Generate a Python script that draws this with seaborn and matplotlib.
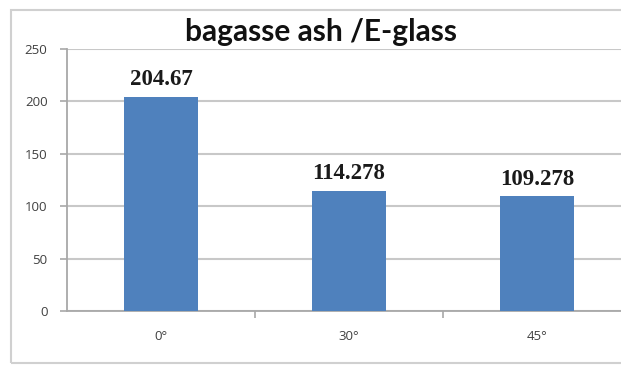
import matplotlib
matplotlib.use("Agg")
import matplotlib.pyplot as plt
import seaborn as sns
from matplotlib.patches import Rectangle

angles = ["0°", "30°", "45°"]
values = [204.67, 114.278, 109.278]
value_labels = ["204.67", "114.278", "109.278"]
yticks = [0, 50, 100, 150, 200, 250]
title = "bagasse ash /E-glass"

sns.set_theme(style="white")
plt.rcParams["font.family"] = ["DejaVu Sans"]

W, H = 621, 372
fig = plt.figure(figsize=(W / 100, H / 100), dpi=100)
fig.patch.set_facecolor("white")

# chart-area border (left, top, bottom visible; right is cropped)
fig.patches.append(Rectangle((11 / W, 1 - 363 / H), 3.0, (363 - 10) / H,
                             transform=fig.transFigure, fill=False,
                             edgecolor="#d0d0d0", linewidth=1.5, zorder=0,
                             clip_on=False))

ax_left, ax_right = 67, 621
ax_top, ax_bot = 49, 311
ax = fig.add_axes([ax_left / W, 1 - ax_bot / H, (ax_right - ax_left) / W, (ax_bot - ax_top) / H])
ax.set_facecolor("none")

sns.barplot(x=angles, y=values, color="#4F81BD", width=0.39, saturation=1,
            ax=ax, zorder=3)
for p in ax.patches:
    p.set_edgecolor("none")

ax.set_ylim(0, 250)
px_per_cat = 188
ax.set_xlim(-0.5, -0.5 + (ax_right - ax_left) / px_per_cat)
ax.set_yticks(yticks)
ax.yaxis.grid(True, color="#c8c8c8", linewidth=1.5, zorder=0)
ax.set_axisbelow(True)

for s in ["top", "right"]:
    ax.spines[s].set_visible(False)
for s in ["left", "bottom"]:
    ax.spines[s].set_color("#a8a8a8")
    ax.spines[s].set_linewidth(1.3)

ax.tick_params(axis="y", length=5, width=1.2, color="#a8a8a8", pad=9,
               labelsize=9.5, labelcolor="#404040", left=True)
ax.tick_params(axis="x", length=0, pad=14, labelsize=9.5, labelcolor="#404040")
for lab in ax.get_yticklabels() + ax.get_xticklabels():
    lab.set_fontfamily(["Open Sans", "DejaVu Sans"])
# minor ticks between categories on the category axis
ax.set_xticks([0.5, 1.5], minor=True)
ax.tick_params(axis="x", which="minor", length=5, width=1.2, color="#a8a8a8",
               bottom=True, direction="out")

ax.bar_label(ax.containers[0], labels=value_labels, padding=5,
             fontsize=16.5, fontweight="bold", family=["Liberation Serif"],
             color="#1a1a1a")

fig.text(321 / W, 1 - 32 / H, title, ha="center", va="center",
         fontsize=21.5, fontweight="bold", family=["Lato", "DejaVu Sans"],
         color="#111111")

fig.savefig("out.png", dpi=100)
